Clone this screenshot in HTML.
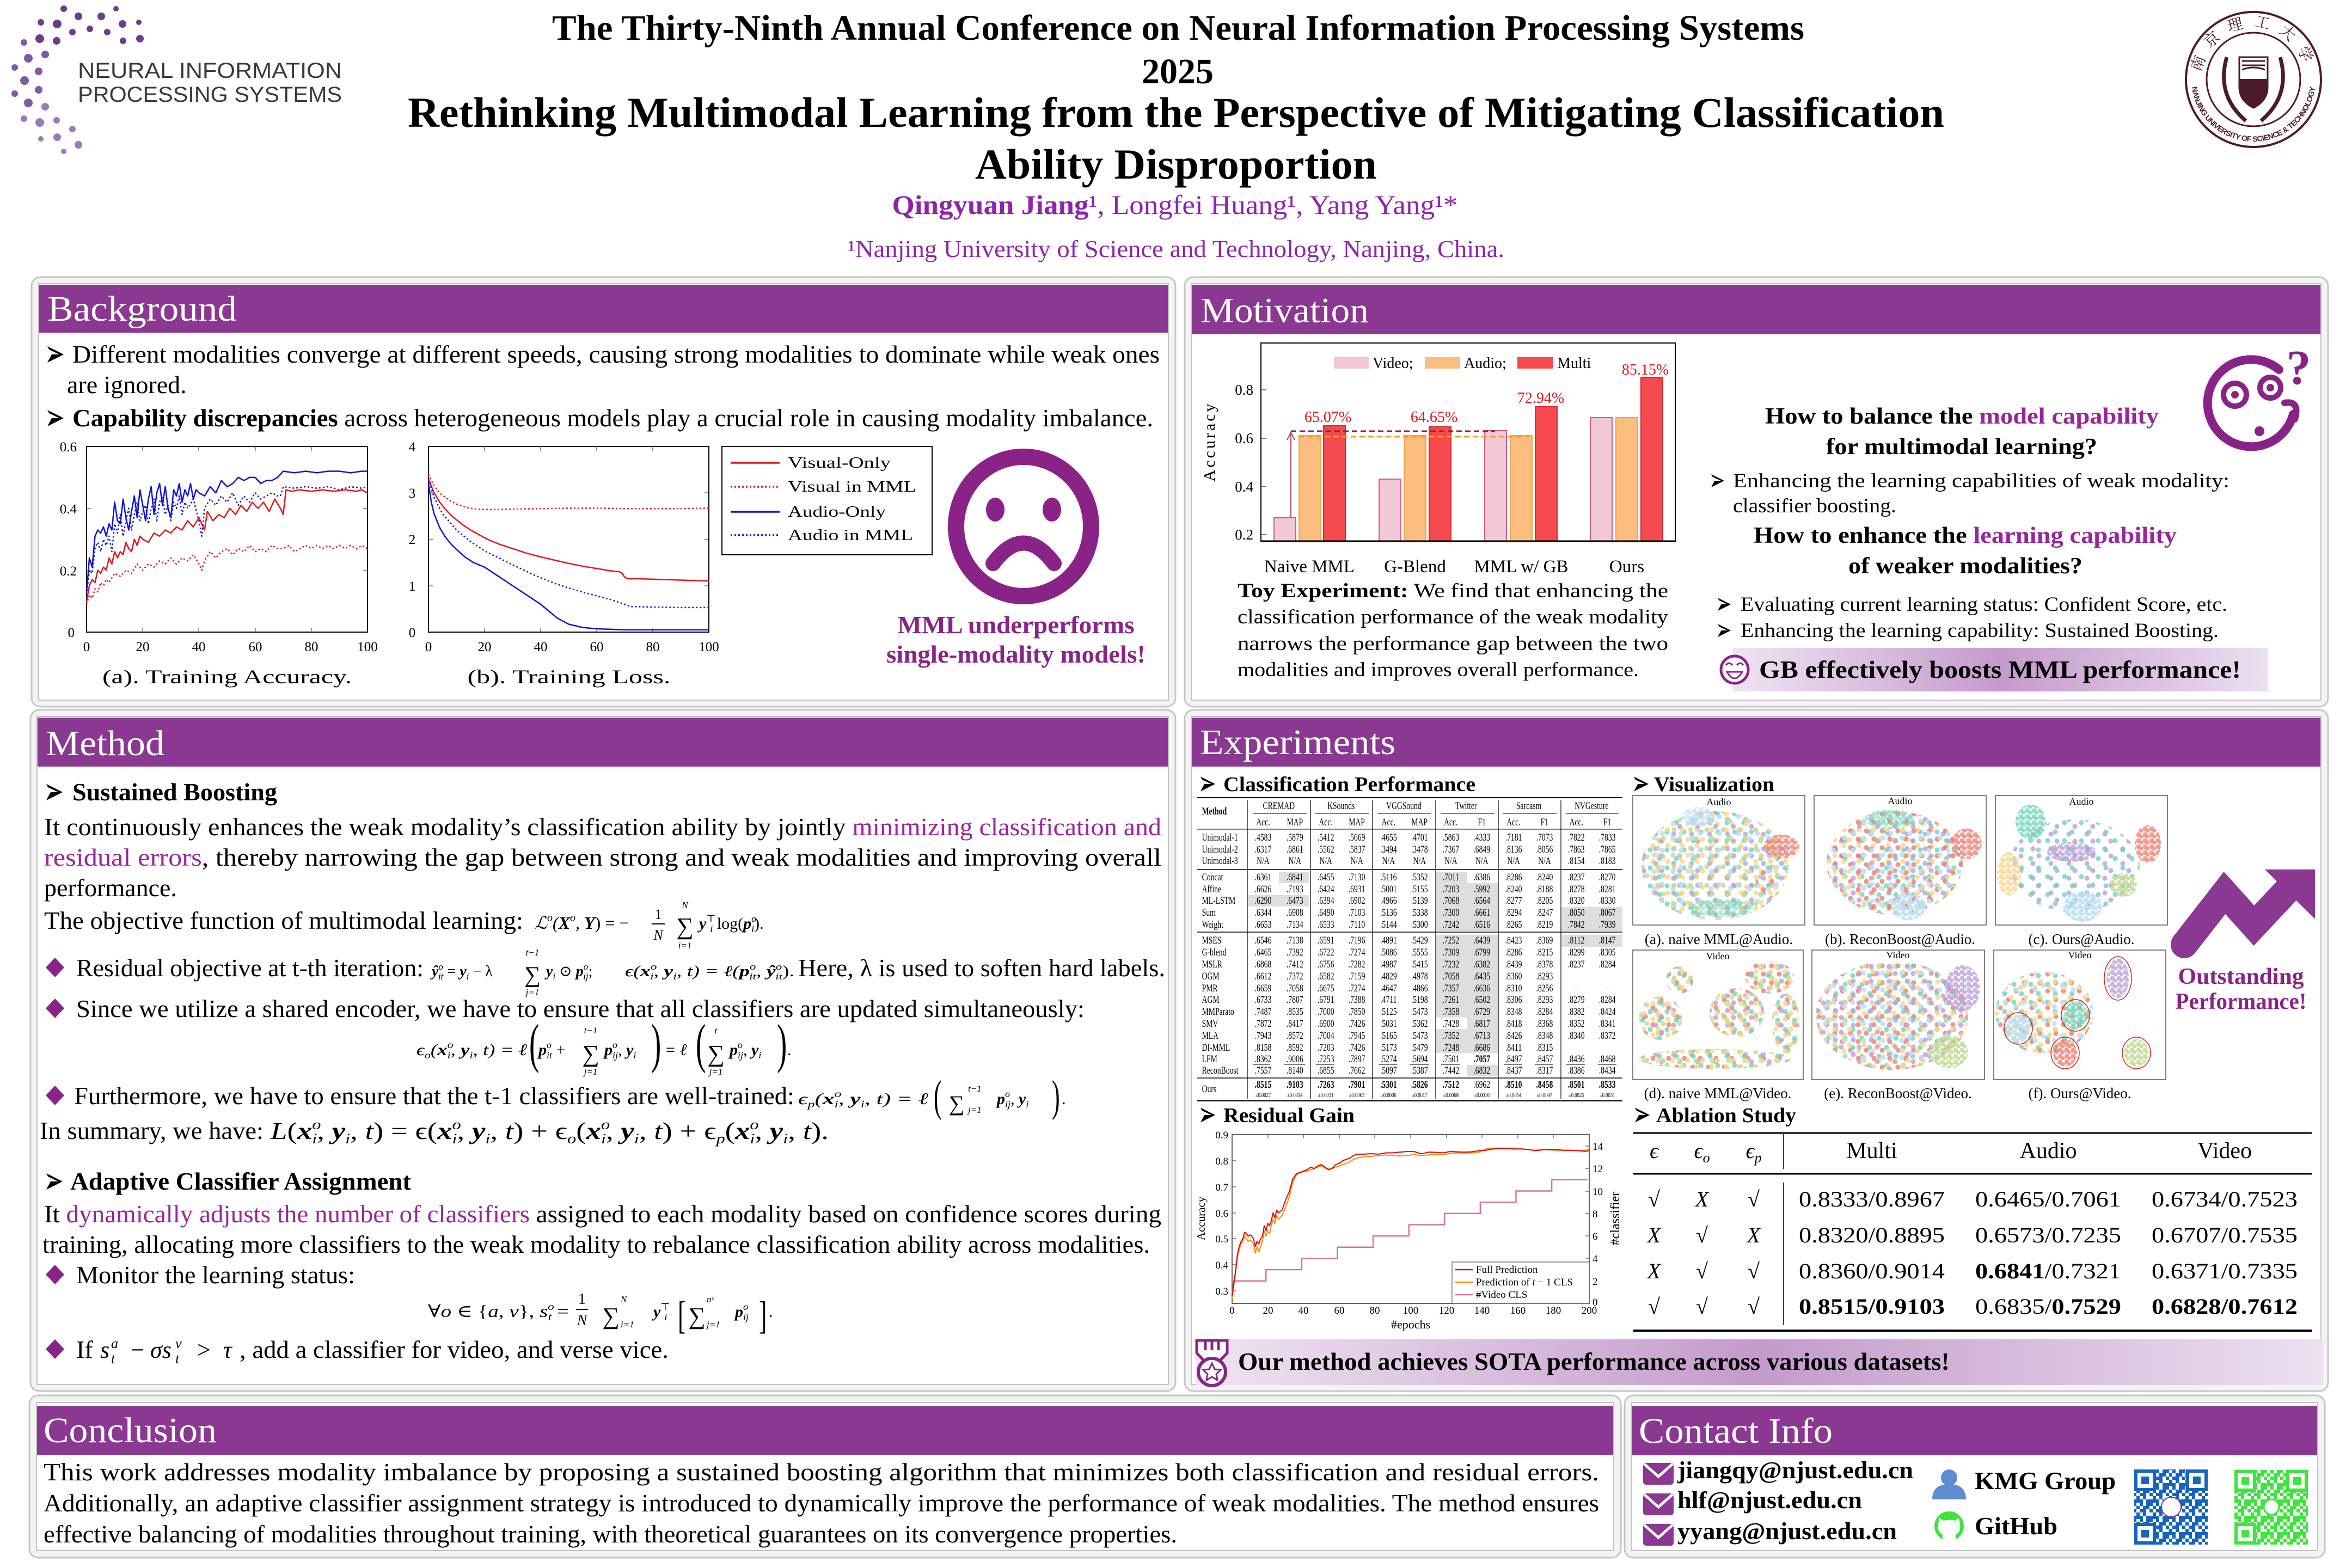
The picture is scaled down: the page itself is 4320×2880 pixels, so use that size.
<!DOCTYPE html>
<html><head><meta charset="utf-8">
<style>
html,body{margin:0;padding:0;background:#fff}
svg{display:block}
text{font-family:"Liberation Serif","DejaVu Serif",serif}
.ss{font-family:"Liberation Sans","DejaVu Sans",sans-serif}
.ar{font-family:"DejaVu Sans",sans-serif}
.cjk{font-family:"Liberation Serif","Noto Serif CJK SC","Noto Sans CJK SC",serif}
.nv{vector-effect:non-scaling-stroke}
</style></head><body>
<svg width="4320" height="2880" viewBox="0 0 4320 2880" xmlns="http://www.w3.org/2000/svg">
<defs>
<linearGradient id="gb" x1="0" x2="1" y1="0" y2="0"><stop offset="0" stop-color="#efe4f2"/><stop offset="0.5" stop-color="#c49bcb"/><stop offset="1" stop-color="#ece0f0"/></linearGradient>
<g id="ah"><path d="M0 -15 L30 0 L0 15 L8 0 Z" fill="#000"/><path d="M3 -9 L22 0 L8 0 Z" fill="#fff"/></g>
<pattern id="pr" width="29" height="31" patternUnits="userSpaceOnUse"><circle cx="6" cy="7" r="4.6" fill="#f17b6d" fill-opacity=".8"/><circle cx="20" cy="22" r="4.6" fill="#f17b6d" fill-opacity=".8"/></pattern>
<pattern id="pp" width="33" height="27" patternUnits="userSpaceOnUse"><circle cx="16" cy="6" r="4.6" fill="#bb9ddb" fill-opacity=".8"/><circle cx="5" cy="20" r="4.6" fill="#bb9ddb" fill-opacity=".8"/></pattern>
<pattern id="pt" width="31" height="33" patternUnits="userSpaceOnUse"><circle cx="24" cy="10" r="4.6" fill="#6dd5b9" fill-opacity=".8"/><circle cx="10" cy="26" r="4.6" fill="#6dd5b9" fill-opacity=".8"/></pattern>
<pattern id="py" width="27" height="29" patternUnits="userSpaceOnUse"><circle cx="12" cy="16" r="4.6" fill="#fcd789" fill-opacity=".85"/><circle cx="22" cy="5" r="4.6" fill="#fcd789" fill-opacity=".85"/></pattern>
<pattern id="pb" width="35" height="31" patternUnits="userSpaceOnUse"><circle cx="28" cy="20" r="4.6" fill="#bde0f5" fill-opacity=".9"/><circle cx="8" cy="12" r="4.6" fill="#bde0f5" fill-opacity=".9"/></pattern>
<pattern id="pg" width="30" height="34" patternUnits="userSpaceOnUse"><circle cx="15" cy="28" r="4.6" fill="#c3dc97" fill-opacity=".85"/><circle cx="25" cy="10" r="4.6" fill="#c3dc97" fill-opacity=".85"/></pattern>
<pattern id="dR" width="12" height="11" patternUnits="userSpaceOnUse"><circle cx="4" cy="4" r="4.6" fill="#f17b6d" fill-opacity=".75"/><circle cx="10" cy="9" r="4.6" fill="#f17b6d" fill-opacity=".75"/></pattern>
<pattern id="dP" width="12" height="11" patternUnits="userSpaceOnUse"><circle cx="4" cy="4" r="4.6" fill="#bb9ddb" fill-opacity=".75"/><circle cx="10" cy="9" r="4.6" fill="#bb9ddb" fill-opacity=".75"/></pattern>
<pattern id="dT" width="12" height="11" patternUnits="userSpaceOnUse"><circle cx="4" cy="4" r="4.6" fill="#6dd5b9" fill-opacity=".75"/><circle cx="10" cy="9" r="4.6" fill="#6dd5b9" fill-opacity=".75"/></pattern>
<pattern id="dY" width="12" height="11" patternUnits="userSpaceOnUse"><circle cx="4" cy="4" r="4.6" fill="#fcd789" fill-opacity=".8"/><circle cx="10" cy="9" r="4.6" fill="#fcd789" fill-opacity=".8"/></pattern>
<pattern id="dB" width="12" height="11" patternUnits="userSpaceOnUse"><circle cx="4" cy="4" r="4.6" fill="#bde0f5" fill-opacity=".9"/><circle cx="10" cy="9" r="4.6" fill="#bde0f5" fill-opacity=".9"/></pattern>
<pattern id="dG" width="12" height="11" patternUnits="userSpaceOnUse"><circle cx="4" cy="4" r="4.6" fill="#c3dc97" fill-opacity=".85"/><circle cx="10" cy="9" r="4.6" fill="#c3dc97" fill-opacity=".85"/></pattern>
<pattern id="qb" width="30" height="30" patternUnits="userSpaceOnUse"><g fill="#1565c0"><rect x="0" y="0" width="6" height="6"/><rect x="12" y="0" width="6" height="6"/><rect x="18" y="0" width="6" height="6"/><rect x="6" y="6" width="6" height="6"/><rect x="12" y="6" width="6" height="6"/><rect x="24" y="6" width="6" height="6"/><rect x="0" y="12" width="6" height="6"/><rect x="6" y="12" width="6" height="6"/><rect x="18" y="12" width="6" height="6"/><rect x="6" y="18" width="6" height="6"/><rect x="24" y="18" width="6" height="6"/><rect x="0" y="24" width="6" height="6"/><rect x="12" y="24" width="6" height="6"/><rect x="18" y="24" width="6" height="6"/><rect x="24" y="24" width="6" height="6"/></g></pattern>
<pattern id="qg" width="30" height="30" patternUnits="userSpaceOnUse"><g fill="#3ce63c"><rect x="0" y="0" width="6" height="6"/><rect x="12" y="0" width="6" height="6"/><rect x="18" y="0" width="6" height="6"/><rect x="6" y="6" width="6" height="6"/><rect x="12" y="6" width="6" height="6"/><rect x="24" y="6" width="6" height="6"/><rect x="0" y="12" width="6" height="6"/><rect x="6" y="12" width="6" height="6"/><rect x="18" y="12" width="6" height="6"/><rect x="6" y="18" width="6" height="6"/><rect x="24" y="18" width="6" height="6"/><rect x="0" y="24" width="6" height="6"/><rect x="12" y="24" width="6" height="6"/><rect x="18" y="24" width="6" height="6"/><rect x="24" y="24" width="6" height="6"/></g></pattern>
<ellipse id="a1" cx="3150" cy="1590" rx="135" ry="100"/>
<ellipse id="b1" cx="3480" cy="1585" rx="125" ry="95"/>
<ellipse id="c1" cx="3810" cy="1590" rx="120" ry="85"/>
<ellipse id="e1" cx="3475" cy="1865" rx="140" ry="100"/>
<ellipse id="f1" cx="3755" cy="1860" rx="90" ry="75"/>
<g id="dd">
<ellipse cx="3250" cy="1795" rx="45" ry="30"/>
<ellipse cx="3050" cy="1870" rx="40" ry="40"/>
<ellipse cx="3190" cy="1860" rx="50" ry="45"/>
<ellipse cx="3280" cy="1880" rx="25" ry="55"/>
<ellipse cx="3150" cy="1945" rx="140" ry="18"/>
<ellipse cx="3085" cy="1800" rx="25" ry="25"/>
</g>
<path id="arcB" d="M4025 146 A114 114 0 0 0 4253 146"/>
<path id="arcT" d="M4043 146 A96 96 0 0 1 4235 146"/>
</defs>

<rect x="0" y="0" width="4320" height="2880" fill="#fff"/>

<!-- ================= HEADER ================= -->
<g>
<g fill="#6a3d8f">
<circle cx="257" cy="71" r="7"/><circle cx="225" cy="44" r="7"/><circle cx="186" cy="30" r="7"/><circle cx="144" cy="30" r="7"/><circle cx="105" cy="44" r="8"/><circle cx="73" cy="71" r="8"/>
<circle cx="226" cy="75" r="6"/><circle cx="197" cy="59" r="6"/><circle cx="165" cy="53" r="6"/><circle cx="133" cy="59" r="6"/><circle cx="104" cy="75" r="7"/>
<circle cx="255" cy="41" r="5"/><circle cx="213" cy="16" r="5"/><circle cx="117" cy="16" r="6"/><circle cx="75" cy="41" r="6"/>
</g>
<g fill="#7f5aa3">
<circle cx="52" cy="107" r="8"/><circle cx="45" cy="148" r="8"/><circle cx="52" cy="189" r="8"/><circle cx="83" cy="100" r="7"/><circle cx="71" cy="131" r="7"/><circle cx="71" cy="165" r="7"/>
<circle cx="44" cy="78" r="6"/><circle cx="27" cy="124" r="6"/><circle cx="27" cy="172" r="6"/>
</g>
<g fill="#9a7bb6">
<circle cx="73" cy="225" r="8"/><circle cx="105" cy="252" r="7"/><circle cx="144" cy="266" r="7"/><circle cx="83" cy="196" r="7"/><circle cx="104" cy="221" r="6"/><circle cx="133" cy="237" r="6"/>
<circle cx="44" cy="218" r="6"/><circle cx="75" cy="255" r="5"/><circle cx="117" cy="278" r="5"/>
</g>
<text x="143" y="143" class="ss" font-size="40" fill="#3a3a3a" textLength="485" lengthAdjust="spacingAndGlyphs">NEURAL INFORMATION</text>
<text x="143" y="187" class="ss" font-size="40" fill="#3a3a3a" textLength="485" lengthAdjust="spacingAndGlyphs">PROCESSING SYSTEMS</text>

<text x="2164" y="73" font-size="66" font-weight="bold" text-anchor="middle" textLength="2300" lengthAdjust="spacingAndGlyphs">The Thirty-Ninth Annual Conference on Neural Information Processing Systems</text>
<text x="2163" y="153" font-size="66" font-weight="bold" text-anchor="middle">2025</text>
<text x="2160" y="233" font-size="78" font-weight="bold" text-anchor="middle" textLength="2822" lengthAdjust="spacingAndGlyphs">Rethinking Multimodal Learning from the Perspective of Mitigating Classification</text>
<text x="2160" y="328" font-size="78" font-weight="bold" text-anchor="middle" textLength="738" lengthAdjust="spacingAndGlyphs">Ability Disproportion</text>
<text x="2158" y="393" font-size="50" fill="#8e24aa" text-anchor="middle" textLength="1039" lengthAdjust="spacingAndGlyphs"><tspan font-weight="bold">Qingyuan Jiang</tspan>¹, Longfei Huang¹, Yang Yang¹*</text>
<text x="2160" y="472" font-size="44" fill="#8e24aa" text-anchor="middle" textLength="1206" lengthAdjust="spacingAndGlyphs">¹Nanjing University of Science and Technology, Nanjing, China.</text>

<!-- NJUST logo -->
<g stroke="#4d1a2c" fill="none">
<circle cx="4139" cy="146" r="124" stroke-width="4"/>
<circle cx="4139" cy="146" r="86" stroke-width="3"/>
<path d="M4090 105 Q4070 175 4125 222" stroke-width="7"/>
<path d="M4188 105 Q4208 175 4153 222" stroke-width="7"/>
<path d="M4113 105 H4165 V160 Q4165 185 4139 198 Q4113 185 4113 160 Z" stroke-width="3"/>
<path d="M4118 112 H4160 M4118 120 H4160 M4118 128 Q4139 120 4160 128" stroke-width="3"/>
</g>
<path d="M4113 145 H4165 V160 Q4165 185 4139 198 Q4113 185 4113 160 Z" fill="#4d1a2c"/>
<text class="ss" font-size="14" font-weight="bold" fill="#4d1a2c"><textPath href="#arcB" startOffset="50%" text-anchor="middle" textLength="330">NANJING UNIVERSITY OF SCIENCE &amp; TECHNOLOGY</textPath></text>
<text class="cjk" font-size="28" fill="#4d1a2c" letter-spacing="18"><textPath href="#arcT" startOffset="50%" text-anchor="middle">南京理工大学</textPath></text>
</g>

<!-- ================= PANELS ================= -->
<g fill="#f3f3f3" stroke="#c6c6c6" stroke-width="3">
<rect x="58" y="509" width="2101" height="789" rx="16"/>
<rect x="2176" y="509" width="2100" height="789" rx="16"/>
<rect x="56" y="1304" width="2103" height="1251" rx="16"/>
<rect x="2176" y="1304" width="2100" height="1251" rx="16"/>
<rect x="54" y="2563" width="2923" height="298" rx="16"/>
<rect x="2984" y="2563" width="1286" height="298" rx="16"/>
</g>
<g fill="#fff" stroke="#c2c2c2" stroke-width="2">
<rect x="71" y="521" width="2075" height="765"/>
<rect x="2188" y="521" width="2075" height="765"/>
<rect x="68" y="1316" width="2078" height="1227"/>
<rect x="2188" y="1316" width="2075" height="1227"/>
<rect x="67" y="2576" width="2897" height="272"/>
<rect x="2997" y="2576" width="1260" height="272"/>
</g>
<g fill="#8a3891">
<rect x="72" y="523" width="2073" height="88"/>
<rect x="2189" y="523" width="2073" height="91"/>
<rect x="69" y="1318" width="2076" height="90"/>
<rect x="2189" y="1318" width="2073" height="90"/>
<rect x="68" y="2582" width="2895" height="90"/>
<rect x="2998" y="2582" width="1258" height="91"/>
</g>
<g fill="#fff" font-size="66">
<text x="87" y="589" textLength="348" lengthAdjust="spacingAndGlyphs">Background</text>
<text x="2205" y="592" textLength="309" lengthAdjust="spacingAndGlyphs">Motivation</text>
<text x="84" y="1387" textLength="218" lengthAdjust="spacingAndGlyphs">Method</text>
<text x="2204" y="1385" textLength="359" lengthAdjust="spacingAndGlyphs">Experiments</text>
<text x="80" y="2649" textLength="318" lengthAdjust="spacingAndGlyphs">Conclusion</text>
<text x="3010" y="2650" textLength="356" lengthAdjust="spacingAndGlyphs">Contact Info</text>
</g>

<!-- section arrowheads -->
<use href="#ah" transform="translate(87,651)"/>
<use href="#ah" transform="translate(87,768)"/>
<use href="#ah" transform="translate(85,1455)"/>
<use href="#ah" transform="translate(85,2170)"/>
<use href="#ah" transform="translate(3143,883) scale(0.8)"/>
<use href="#ah" transform="translate(3155,1110) scale(0.8)"/>
<use href="#ah" transform="translate(3155,1158) scale(0.8)"/>
<use href="#ah" transform="translate(2205,1440) scale(0.9)"/>
<use href="#ah" transform="translate(2205,2048) scale(0.9)"/>
<use href="#ah" transform="translate(3001,1440) scale(0.9)"/>
<use href="#ah" transform="translate(3003,2048) scale(0.9)"/>

<!-- ================= BACKGROUND ================= -->
<g font-size="46">
<text x="133" y="666" textLength="1997" lengthAdjust="spacingAndGlyphs">Different modalities converge at different speeds, causing strong modalities to dominate while weak ones</text>
<text x="123" y="722">are ignored.</text>
<text x="133" y="783" textLength="1985" lengthAdjust="spacingAndGlyphs"><tspan font-weight="bold">Capability discrepancies</tspan> across heterogeneous models play a crucial role in causing modality imbalance.</text>
</g>
<!-- chart a -->
<rect x="159" y="820" width="516" height="341" fill="none" stroke="#000" stroke-width="2"/>
<g stroke="#777" stroke-width="1.5">
<path d="M262 820v8M365 820v8M469 820v8M572 820v8M262 1161v-8M365 1161v-8M469 1161v-8M572 1161v-8M675 934h-8M675 1048h-8M159 934h8M159 1048h8"/>
<path d="M890 820v8M993 820v8M1096 820v8M1199 820v8M890 1161v-8M993 1161v-8M1096 1161v-8M1199 1161v-8M1302 905h-8M1302 991h-8M1302 1076h-8M787 905h8M787 991h8M787 1076h8"/>
</g>
<g font-size="25" text-anchor="end">
<text x="141" y="829">0.6</text><text x="141" y="943">0.4</text><text x="141" y="1057">0.2</text><text x="137" y="1170">0</text>
</g>
<g font-size="25" text-anchor="middle">
<text x="159" y="1196">0</text><text x="262" y="1196">20</text><text x="365" y="1196">40</text><text x="469" y="1196">60</text><text x="572" y="1196">80</text><text x="675" y="1196">100</text>
<text x="757" y="829">4</text><text x="757" y="914">3</text><text x="757" y="999">2</text><text x="757" y="1085">1</text><text x="757" y="1170">0</text>
<text x="787" y="1196">0</text><text x="890" y="1196">20</text><text x="993" y="1196">40</text><text x="1096" y="1196">60</text><text x="1199" y="1196">80</text><text x="1302" y="1196">100</text>
</g>
<text x="417" y="1255" font-size="36" text-anchor="middle" textLength="458" lengthAdjust="spacingAndGlyphs">(a). Training Accuracy.</text>
<text x="1045" y="1255" font-size="36" text-anchor="middle" textLength="373" lengthAdjust="spacingAndGlyphs">(b). Training Loss.</text>
<g transform="translate(159,1161) scale(5.16,-568.3)" fill="none" stroke-width="2.5" stroke-linejoin="round">
<polyline class="nv" stroke="#e8141c" stroke-dasharray="3 4" points="0,.09 1,.12 2,.11 3,.14 4,.13 5,.16 6,.15 7,.17 8,.16 10,.19 12,.18 14,.2 16,.19 18,.22 20,.2 22,.22 24,.21 26,.23 28,.22 30,.24 32,.22 34,.24 36,.23 38,.25 40,.22 41,.2 42,.23 44,.26 46,.24 48,.26 50,.27 52,.25 54,.27 56,.26 58,.28 60,.26 62,.27 64,.26 66,.28 68,.27 70,.27 72,.28 74,.26 76,.27 78,.28 80,.27 82,.28 84,.27 86,.28 88,.27 90,.28 92,.27 94,.28 96,.27 98,.28 100,.27"/>
<polyline class="nv" stroke="#e8141c" points="0,.1 1,.15 2,.17 3,.16 4,.2 5,.19 6,.21 7,.2 8,.24 9,.22 10,.26 11,.24 12,.26 13,.25 14,.29 15,.27 16,.26 17,.3 18,.28 19,.31 20,.3 22,.29 24,.32 26,.31 28,.33 30,.32 32,.34 34,.33 36,.36 38,.34 40,.37 42,.33 43,.39 45,.36 47,.38 49,.37 51,.4 53,.38 55,.41 57,.39 59,.42 61,.4 63,.42 65,.39 67,.43 69,.4 70,.38 71,.46 73,.455 76,.46 80,.455 84,.46 88,.455 92,.46 96,.455 98,.46 100,.45"/>
<polyline class="nv" stroke="#1010e0" stroke-dasharray="3 4" points="0,.12 1,.2 2,.19 3,.27 4,.29 5,.26 6,.3 7,.28 8,.31 9,.26 10,.35 11,.32 12,.38 13,.31 14,.36 15,.4 16,.33 17,.38 18,.42 19,.36 20,.39 21,.41 22,.35 23,.4 24,.43 25,.36 26,.42 27,.44 28,.38 29,.41 30,.36 31,.42 32,.4 33,.44 34,.38 35,.42 36,.40 38,.43 40,.36 41,.31 42,.4 44,.43 46,.41 48,.44 50,.42 52,.45 54,.41 56,.44 58,.42 60,.45 62,.43 64,.44 66,.45 68,.44 69,.44 70,.47 74,.465 78,.47 82,.465 86,.47 90,.46 94,.47 98,.465 100,.47"/>
<polyline class="nv" stroke="#1010e0" points="0,.13 1,.24 2,.21 3,.31 4,.33 5,.32 6,.34 7,.31 8,.35 9,.33 10,.42 11,.36 12,.35 13,.43 14,.37 15,.33 16,.39 17,.44 18,.37 19,.46 20,.41 21,.36 22,.43 23,.47 24,.38 25,.45 26,.48 27,.41 28,.47 29,.40 30,.37 31,.46 32,.44 33,.48 34,.42 35,.46 36,.44 37,.48 38,.43 39,.46 40,.45 42,.44 44,.47 46,.45 48,.49 50,.47 52,.48 54,.50 56,.49 58,.50 60,.50 62,.48 64,.49 66,.49 68,.50 69,.51 70,.52 74,.515 78,.52 82,.515 86,.52 90,.52 94,.515 98,.52 100,.52"/>
</g>
<!-- chart b -->
<rect x="787" y="820" width="515" height="341" fill="none" stroke="#000" stroke-width="2"/>
<g transform="translate(787,1161) scale(5.15,-85.25)" fill="none" stroke-width="2.5" stroke-linejoin="round">
<polyline class="nv" stroke="#e8141c" stroke-dasharray="3 4" points="0,3.4 2,3.15 4,3.0 6,2.9 8,2.82 10,2.76 12,2.72 14,2.68 16,2.66 18,2.65 22,2.64 30,2.65 40,2.66 50,2.67 60,2.67 70,2.66 80,2.66 90,2.66 100,2.67"/>
<polyline class="nv" stroke="#e8141c" points="0,3.3 2,3.0 4,2.8 6,2.65 8,2.52 10,2.42 12,2.32 15,2.2 18,2.1 21,2.0 25,1.9 30,1.8 35,1.7 40,1.62 45,1.55 50,1.48 55,1.42 60,1.37 65,1.32 68,1.3 69,1.27 70,1.18 71,1.15 75,1.15 80,1.14 85,1.13 90,1.12 95,1.11 100,1.1"/>
<polyline class="nv" stroke="#1010e0" stroke-dasharray="3 4" points="0,3.3 2,2.9 5,2.55 10,2.2 15,1.95 20,1.75 25,1.6 30,1.45 38,1.22 45,1.05 50,0.95 55,0.86 60,0.78 65,0.7 70,0.6 72,0.55 80,0.54 90,0.53 100,0.53"/>
<polyline class="nv" stroke="#1010e0" points="0,3.2 1,2.8 2,2.55 3,2.4 4,2.25 6,2.05 8,1.9 10,1.78 13,1.62 16,1.5 20,1.4 25,1.2 30,1.0 35,0.8 40,0.6 43,0.45 46,0.3 50,0.17 55,0.1 60,0.07 70,0.05 80,0.05 100,0.05"/>
</g>
<!-- legend -->
<rect x="1326" y="820" width="386" height="199" fill="#fff" stroke="#000" stroke-width="2"/>
<g stroke-width="3.5">
<line x1="1342" y1="850" x2="1432" y2="850" stroke="#e8141c"/>
<line x1="1342" y1="894" x2="1432" y2="894" stroke="#e8141c" stroke-dasharray="3 4"/>
<line x1="1342" y1="940" x2="1432" y2="940" stroke="#1010e0"/>
<line x1="1342" y1="983" x2="1432" y2="983" stroke="#1010e0" stroke-dasharray="3 4"/>
</g>
<g font-size="28">
<text x="1447" y="859" textLength="189" lengthAdjust="spacingAndGlyphs">Visual-Only</text>
<text x="1447" y="903" textLength="236" lengthAdjust="spacingAndGlyphs">Visual in MML</text>
<text x="1447" y="949" textLength="180" lengthAdjust="spacingAndGlyphs">Audio-Only</text>
<text x="1447" y="992" textLength="230" lengthAdjust="spacingAndGlyphs">Audio in MML</text>
</g>
<!-- sad face -->
<g fill="none" stroke="#8a2387">
<ellipse cx="1880" cy="967" rx="124" ry="128" stroke-width="30"/>
<path d="M1824 1035 Q1880 960 1936 1035" stroke-width="28" stroke-linecap="round"/>
</g>
<ellipse cx="1828" cy="936" rx="17" ry="22" fill="#8a2387"/>
<ellipse cx="1932" cy="936" rx="17" ry="22" fill="#8a2387"/>
<text x="1866" y="1163" font-size="46" font-weight="bold" fill="#8a2387" text-anchor="middle" textLength="435" lengthAdjust="spacingAndGlyphs">MML underperforms</text>
<text x="1866" y="1217" font-size="46" font-weight="bold" fill="#8a2387" text-anchor="middle" textLength="476" lengthAdjust="spacingAndGlyphs">single-modality models!</text>

<!-- ================= MOTIVATION ================= -->
<rect x="2316" y="630" width="761" height="364" fill="none" stroke="#000" stroke-width="2"/>
<path d="M2316 716h10M2316 805h10M2316 894h10M2316 982h10" stroke="#555" stroke-width="1.5"/>
<g font-size="27" text-anchor="end">
<text x="2302" y="725">0.8</text><text x="2302" y="814">0.6</text><text x="2302" y="903">0.4</text><text x="2302" y="991">0.2</text>
</g>
<text transform="translate(2231,811) rotate(-90)" font-size="30" text-anchor="middle" letter-spacing="4">Accuracy</text>
<rect x="2450" y="656" width="64" height="21" fill="#f2c8d6"/>
<rect x="2617" y="656" width="65" height="21" fill="#fbbd7e"/>
<rect x="2787" y="656" width="66" height="21" fill="#f64a4f"/>
<g font-size="28"><text x="2521" y="676">Video;</text><text x="2689" y="676">Audio;</text><text x="2860" y="676">Multi</text></g>
<g stroke-width="2">
<g fill="#f2c8d6" stroke="#cf5c86">
<rect x="2340" y="951" width="40" height="43"/><rect x="2533" y="880" width="40" height="114"/><rect x="2727" y="791" width="40" height="203"/><rect x="2921" y="767" width="40" height="227"/>
</g>
<g fill="#fbbd7e" stroke="#f2a24c">
<rect x="2386" y="800" width="40" height="194"/><rect x="2579" y="800" width="40" height="194"/><rect x="2774" y="800" width="40" height="194"/><rect x="2968" y="767" width="40" height="227"/>
</g>
<g fill="#f64a4f" stroke="#d42a35">
<rect x="2431" y="782" width="40" height="212"/><rect x="2625" y="784" width="40" height="210"/><rect x="2820" y="747" width="40" height="247"/><rect x="3014" y="693" width="40" height="301"/>
</g>
</g>
<line x1="2316" y1="994" x2="3077" y2="994" stroke="#000" stroke-width="3"/>
<line x1="2371" y1="792" x2="2746" y2="792" stroke="#8a2040" stroke-width="3" stroke-dasharray="10 6"/>
<line x1="2385" y1="802" x2="2808" y2="802" stroke="#ff9a30" stroke-width="3" stroke-dasharray="10 6"/>
<line x1="2371" y1="951" x2="2371" y2="798" stroke="#b04070" stroke-width="2"/>
<path d="M2364 808 L2371 794 L2378 808" fill="none" stroke="#b04070" stroke-width="2"/>
<g font-size="28" fill="#e8141c" text-anchor="middle">
<text x="2439" y="775">65.07%</text><text x="2634" y="775">64.65%</text><text x="2830" y="740">72.94%</text><text x="3022" y="688">85.15%</text>
</g>
<g font-size="33" text-anchor="middle">
<text x="2405" y="1051">Naive MML</text><text x="2599" y="1051">G-Blend</text><text x="2794" y="1051">MML w/ GB</text><text x="2988" y="1051">Ours</text>
</g>
<g font-size="37">
<text x="2273" y="1097" textLength="791" lengthAdjust="spacingAndGlyphs"><tspan font-weight="bold">Toy Experiment:</tspan> We find that enhancing the</text>
<text x="2273" y="1145" textLength="791" lengthAdjust="spacingAndGlyphs">classification performance of the weak modality</text>
<text x="2273" y="1194" textLength="791" lengthAdjust="spacingAndGlyphs">narrows the performance gap between the two</text>
<text x="2273" y="1242" textLength="737" lengthAdjust="spacingAndGlyphs">modalities and improves overall performance.</text>
</g>
<!-- thinking icon -->
<g fill="none" stroke="#8a2387" stroke-linecap="round">
<path d="M4186 679 A80 80 0 1 0 4212 761" stroke-width="16"/>
<circle cx="4105" cy="725" r="21" stroke-width="10"/>
<circle cx="4170" cy="712" r="19" stroke-width="10"/>
<path d="M4196 740 Q4225 735 4215 770" stroke-width="12"/>
</g>
<circle cx="4105" cy="725" r="7" fill="#8a2387"/>
<circle cx="4170" cy="712" r="7" fill="#8a2387"/>
<circle cx="4150" cy="792" r="9" fill="#8a2387"/>
<text x="4222" y="705" font-size="90" font-weight="bold" fill="#8a2387" text-anchor="middle">?</text>
<g font-size="42" font-weight="bold">
<text x="3242" y="778" textLength="723" lengthAdjust="spacingAndGlyphs">How to balance the <tspan fill="#99249b">model capability</tspan></text>
<text x="3354" y="834" textLength="498" lengthAdjust="spacingAndGlyphs">for multimodal learning?</text>
<text x="3221" y="997" textLength="777" lengthAdjust="spacingAndGlyphs">How to enhance the <tspan fill="#99249b">learning capability</tspan></text>
<text x="3395" y="1053" textLength="430" lengthAdjust="spacingAndGlyphs">of weaker modalities?</text>
</g>
<g font-size="37">
<text x="3183" y="895" textLength="912" lengthAdjust="spacingAndGlyphs">Enhancing the learning capabilities of weak modality:</text>
<text x="3183" y="941" textLength="300" lengthAdjust="spacingAndGlyphs">classifier boosting.</text>
<text x="3197" y="1122" textLength="894" lengthAdjust="spacingAndGlyphs">Evaluating current learning status: Confident Score, etc.</text>
<text x="3197" y="1170" textLength="878" lengthAdjust="spacingAndGlyphs">Enhancing the learning capability: Sustained Boosting.</text>
</g>
<rect x="3183" y="1190" width="983" height="80" fill="url(#gb)"/>
<circle cx="3186" cy="1230" r="25" fill="#fff" stroke="#8a2387" stroke-width="5"/>
<path d="M3170 1222 q6 -8 12 0 M3190 1222 q6 -8 12 0" fill="none" stroke="#8a2387" stroke-width="3"/>
<path d="M3172 1234 Q3186 1258 3200 1234 Z" fill="#fff" stroke="#8a2387" stroke-width="3"/>
<text x="3231" y="1245" font-size="46" font-weight="bold" textLength="885" lengthAdjust="spacingAndGlyphs">GB effectively boosts MML performance!</text>

<!-- ================= METHOD ================= -->
<g font-size="46">
<text x="133" y="1470" font-weight="bold" textLength="376" lengthAdjust="spacingAndGlyphs">Sustained Boosting</text>
<text x="81" y="1534" textLength="2052" lengthAdjust="spacingAndGlyphs">It continuously enhances the weak modality’s classification ability by jointly <tspan fill="#99249b">minimizing classification and</tspan></text>
<text x="81" y="1590" textLength="2052" lengthAdjust="spacingAndGlyphs"><tspan fill="#99249b">residual errors</tspan>, thereby narrowing the gap between strong and weak modalities and improving overall</text>
<text x="81" y="1646">performance.</text>
<text x="81" y="1706" textLength="880" lengthAdjust="spacingAndGlyphs">The objective function of multimodal learning:</text>
<text x="140" y="1793" textLength="638" lengthAdjust="spacingAndGlyphs">Residual objective at t-th iteration:</text>
<text x="1466" y="1793" textLength="674" lengthAdjust="spacingAndGlyphs">Here, λ is used to soften hard labels.</text>
<text x="140" y="1868" textLength="1852" lengthAdjust="spacingAndGlyphs">Since we utilize a shared encoder, we have to ensure that all classifiers are updated simultaneously:</text>
<text x="136" y="2028" textLength="1323" lengthAdjust="spacingAndGlyphs">Furthermore, we have to ensure that the t-1 classifiers are well-trained:</text>
<text x="73" y="2092" textLength="411" lengthAdjust="spacingAndGlyphs">In summary, we have:</text>
<text x="129" y="2185" font-weight="bold" textLength="626" lengthAdjust="spacingAndGlyphs">Adaptive Classifier Assignment</text>
<text x="81" y="2245" textLength="2052" lengthAdjust="spacingAndGlyphs">It <tspan fill="#99249b">dynamically adjusts the number of classifiers</tspan> assigned to each modality based on confidence scores during</text>
<text x="78" y="2301" textLength="2034" lengthAdjust="spacingAndGlyphs">training, allocating more classifiers to the weak modality to rebalance classification ability across modalities.</text>
<text x="140" y="2357" textLength="512" lengthAdjust="spacingAndGlyphs">Monitor the learning status:</text>
<text x="140" y="2494">If</text>
<text x="440" y="2494" textLength="788" lengthAdjust="spacingAndGlyphs">, add a classifier for video, and verse vice.</text>
</g>
<g fill="#8a2387">
<polygon points="101,1759 118,1777 101,1795 84,1777"/>
<polygon points="101,1834 118,1852 101,1870 84,1852"/>
<polygon points="101,1994 118,2012 101,2030 84,2012"/>
<polygon points="101,2323 118,2341 101,2359 84,2341"/>
<polygon points="101,2460 118,2478 101,2496 84,2478"/>
</g>
<!-- formula 1 -->
<text x="982" y="1706" font-size="32" font-style="italic">ℒ<tspan font-size="20" dy="-14">o</tspan><tspan dy="14">(</tspan><tspan font-weight="bold">X</tspan><tspan font-size="20" dy="-14">o</tspan><tspan dy="14">, </tspan><tspan font-weight="bold">Y</tspan><tspan font-style="normal">) = −</tspan></text>
<text x="1209" y="1688" font-size="26" text-anchor="middle">1</text>
<line x1="1197" y1="1697" x2="1221" y2="1697" stroke="#000" stroke-width="2"/>
<text x="1209" y="1726" font-size="26" font-style="italic" text-anchor="middle">N</text>
<text x="1258" y="1716" font-size="44" text-anchor="middle">∑</text>
<text x="1258" y="1668" font-size="17" font-style="italic" text-anchor="middle">N</text>
<text x="1258" y="1742" font-size="17" font-style="italic" text-anchor="middle">i=1</text>
<text x="1284" y="1706" font-size="30" font-style="italic"><tspan font-weight="bold">y</tspan><tspan font-size="18" dy="-13" font-style="normal">⊤</tspan><tspan font-size="18" dx="-10" dy="19">i</tspan><tspan dy="-6" font-style="normal"> log(</tspan><tspan font-weight="bold">p</tspan><tspan font-size="18" dy="-13">o</tspan><tspan font-size="18" dx="-9" dy="19">i</tspan><tspan dy="-6" font-style="normal">).</tspan></text>
<!-- formula 2 -->
<text x="793" y="1793" font-size="28" font-style="italic"><tspan font-weight="bold">ŷ</tspan><tspan font-size="17" dy="-12">o</tspan><tspan font-size="17" dx="-9" dy="18">it</tspan><tspan dy="-6" font-style="normal"> = </tspan><tspan font-weight="bold">y</tspan><tspan font-size="17" dy="6">i</tspan><tspan dy="-6" font-style="normal"> − λ</tspan></text>
<text x="978" y="1804" font-size="42" text-anchor="middle">∑</text>
<text x="978" y="1755" font-size="17" font-style="italic" text-anchor="middle">t−1</text>
<text x="978" y="1828" font-size="17" font-style="italic" text-anchor="middle">j=1</text>
<text x="1003" y="1793" font-size="28" font-style="italic"><tspan font-weight="bold">y</tspan><tspan font-size="17" dy="6">i</tspan><tspan dy="-6" font-style="normal"> ⊙ </tspan><tspan font-weight="bold">p</tspan><tspan font-size="17" dy="-12">o</tspan><tspan font-size="17" dx="-9" dy="18">ij</tspan><tspan dy="-6" font-style="normal">;</tspan></text>
<text x="1148" y="1793" font-size="28" font-style="italic" textLength="311" lengthAdjust="spacingAndGlyphs">ϵ(<tspan font-weight="bold">x</tspan><tspan font-size="17" dy="-12">o</tspan><tspan font-size="17" dx="-9" dy="18">i</tspan><tspan dy="-6">, </tspan><tspan font-weight="bold">y</tspan><tspan font-size="17" dy="6">i</tspan><tspan dy="-6">, t) = ℓ(</tspan><tspan font-weight="bold">p</tspan><tspan font-size="17" dy="-12">o</tspan><tspan font-size="17" dx="-9" dy="18">it</tspan><tspan dy="-6">, </tspan><tspan font-weight="bold">ŷ</tspan><tspan font-size="17" dy="-12">o</tspan><tspan font-size="17" dx="-9" dy="18">it</tspan><tspan dy="-6" font-style="normal">).</tspan></text>
<!-- formula 3 -->
<text x="765" y="1938" font-size="30" font-style="italic" textLength="203" lengthAdjust="spacingAndGlyphs">ϵ<tspan font-size="18" dy="6">o</tspan><tspan dy="-6">(</tspan><tspan font-weight="bold">x</tspan><tspan font-size="18" dy="-13">o</tspan><tspan font-size="18" dx="-9" dy="19">i</tspan><tspan dy="-6">, </tspan><tspan font-weight="bold">y</tspan><tspan font-size="18" dy="6">i</tspan><tspan dy="-6">, t) = ℓ</tspan></text>
<text transform="translate(972,1950) scale(0.55,1)" font-size="100">(</text>
<text x="989" y="1938" font-size="30" font-style="italic"><tspan font-weight="bold">p</tspan><tspan font-size="18" dy="-13">o</tspan><tspan font-size="18" dx="-9" dy="19">it</tspan><tspan dy="-6" font-style="normal"> +</tspan></text>
<text x="1085" y="1950" font-size="44" text-anchor="middle">∑</text>
<text x="1085" y="1898" font-size="17" font-style="italic" text-anchor="middle">t−1</text>
<text x="1085" y="1974" font-size="17" font-style="italic" text-anchor="middle">j=1</text>
<text x="1110" y="1938" font-size="30" font-style="italic"><tspan font-weight="bold">p</tspan><tspan font-size="18" dy="-13">o</tspan><tspan font-size="18" dx="-9" dy="19">ij</tspan><tspan dy="-6">, </tspan><tspan font-weight="bold">y</tspan><tspan font-size="18" dy="6">i</tspan></text>
<text transform="translate(1196,1950) scale(0.55,1)" font-size="100">)</text>
<text x="1221" y="1938" font-size="30" font-style="italic">= ℓ</text>
<text transform="translate(1278,1950) scale(0.55,1)" font-size="100">(</text>
<text x="1315" y="1950" font-size="44" text-anchor="middle">∑</text>
<text x="1315" y="1898" font-size="17" font-style="italic" text-anchor="middle">t</text>
<text x="1315" y="1974" font-size="17" font-style="italic" text-anchor="middle">j=1</text>
<text x="1340" y="1938" font-size="30" font-style="italic"><tspan font-weight="bold">p</tspan><tspan font-size="18" dy="-13">o</tspan><tspan font-size="18" dx="-9" dy="19">ij</tspan><tspan dy="-6">, </tspan><tspan font-weight="bold">y</tspan><tspan font-size="18" dy="6">i</tspan></text>
<text transform="translate(1427,1950) scale(0.55,1)" font-size="100">)</text>
<text x="1446" y="1938" font-size="30">.</text>
<!-- formula 4 -->
<text x="1466" y="2028" font-size="30" font-style="italic" textLength="239" lengthAdjust="spacingAndGlyphs">ϵ<tspan font-size="18" dy="6">p</tspan><tspan dy="-6">(</tspan><tspan font-weight="bold">x</tspan><tspan font-size="18" dy="-13">o</tspan><tspan font-size="18" dx="-9" dy="19">i</tspan><tspan dy="-6">, </tspan><tspan font-weight="bold">y</tspan><tspan font-size="18" dy="6">i</tspan><tspan dy="-6">, t) = ℓ</tspan></text>
<text transform="translate(1715,2040) scale(0.55,1)" font-size="80">(</text>
<text x="1757" y="2040" font-size="40" text-anchor="middle">∑</text>
<text x="1778" y="2005" font-size="17" font-style="italic">t−1</text>
<text x="1778" y="2044" font-size="17" font-style="italic">j=1</text>
<text x="1831" y="2028" font-size="30" font-style="italic"><tspan font-weight="bold">p</tspan><tspan font-size="18" dy="-13">o</tspan><tspan font-size="18" dx="-9" dy="19">ij</tspan><tspan dy="-6">, </tspan><tspan font-weight="bold">y</tspan><tspan font-size="18" dy="6">i</tspan></text>
<text transform="translate(1932,2040) scale(0.55,1)" font-size="80">)</text>
<text x="1950" y="2028" font-size="30">.</text>
<!-- summary formula -->
<text x="497" y="2092" font-size="44" textLength="1025" lengthAdjust="spacingAndGlyphs"><tspan font-style="italic">L</tspan>(<tspan font-weight="bold" font-style="italic">x</tspan><tspan font-size="26" dy="-18" font-style="italic">o</tspan><tspan font-size="26" dx="-13" dy="26" font-style="italic">i</tspan><tspan dy="-8">, </tspan><tspan font-weight="bold" font-style="italic">y</tspan><tspan font-size="26" dy="8" font-style="italic">i</tspan><tspan dy="-8">, </tspan><tspan font-style="italic">t</tspan>) = ϵ(<tspan font-weight="bold" font-style="italic">x</tspan><tspan font-size="26" dy="-18" font-style="italic">o</tspan><tspan font-size="26" dx="-13" dy="26" font-style="italic">i</tspan><tspan dy="-8">, </tspan><tspan font-weight="bold" font-style="italic">y</tspan><tspan font-size="26" dy="8" font-style="italic">i</tspan><tspan dy="-8">, </tspan><tspan font-style="italic">t</tspan>) + ϵ<tspan font-size="26" dy="8" font-style="italic">o</tspan><tspan dy="-8">(</tspan><tspan font-weight="bold" font-style="italic">x</tspan><tspan font-size="26" dy="-18" font-style="italic">o</tspan><tspan font-size="26" dx="-13" dy="26" font-style="italic">i</tspan><tspan dy="-8">, </tspan><tspan font-weight="bold" font-style="italic">y</tspan><tspan font-size="26" dy="8" font-style="italic">i</tspan><tspan dy="-8">, </tspan><tspan font-style="italic">t</tspan>) + ϵ<tspan font-size="26" dy="8" font-style="italic">p</tspan><tspan dy="-8">(</tspan><tspan font-weight="bold" font-style="italic">x</tspan><tspan font-size="26" dy="-18" font-style="italic">o</tspan><tspan font-size="26" dx="-13" dy="26" font-style="italic">i</tspan><tspan dy="-8">, </tspan><tspan font-weight="bold" font-style="italic">y</tspan><tspan font-size="26" dy="8" font-style="italic">i</tspan><tspan dy="-8">, </tspan><tspan font-style="italic">t</tspan>).</text>
<!-- formula 5 -->
<text x="786" y="2419" font-size="32" textLength="259" lengthAdjust="spacingAndGlyphs">∀<tspan font-style="italic">o</tspan> ∈ {<tspan font-style="italic">a</tspan>, <tspan font-style="italic">v</tspan>}, <tspan font-style="italic">s</tspan><tspan font-size="19" dy="-13" font-style="italic">o</tspan><tspan font-size="19" dx="-9" dy="19" font-style="italic">t</tspan><tspan dy="-6"> =</tspan></text>
<text x="1069" y="2395" font-size="28" text-anchor="middle">1</text>
<line x1="1058" y1="2405" x2="1080" y2="2405" stroke="#000" stroke-width="2"/>
<text x="1069" y="2434" font-size="28" font-style="italic" text-anchor="middle">N</text>
<text x="1122" y="2432" font-size="44" text-anchor="middle">∑</text>
<text x="1140" y="2392" font-size="17" font-style="italic">N</text>
<text x="1140" y="2438" font-size="17" font-style="italic">i=1</text>
<text x="1200" y="2419" font-size="30" font-style="italic"><tspan font-weight="bold">y</tspan><tspan font-size="18" dy="-13" font-style="normal">⊤</tspan><tspan font-size="18" dx="-10" dy="19">i</tspan></text>
<text transform="translate(1245,2440) scale(0.6,1)" font-size="72">[</text>
<text x="1280" y="2432" font-size="44" text-anchor="middle">∑</text>
<text x="1298" y="2392" font-size="17" font-style="italic">nᵒ</text>
<text x="1298" y="2438" font-size="17" font-style="italic">j=1</text>
<text x="1350" y="2419" font-size="30" font-style="italic"><tspan font-weight="bold">p</tspan><tspan font-size="18" dy="-13">o</tspan><tspan font-size="18" dx="-9" dy="19">ij</tspan></text>
<text transform="translate(1394,2440) scale(0.6,1)" font-size="72">]</text>
<text x="1412" y="2419" font-size="30">.</text>
<!-- formula 6 -->
<g font-size="44" font-style="italic">
<text x="184" y="2494">s</text>
<text x="204" y="2476" font-size="26">a</text>
<text x="204" y="2504" font-size="26">t</text>
<text x="240" y="2494" font-style="normal">−</text>
<text x="276" y="2494">σs</text>
<text x="322" y="2476" font-size="26">v</text>
<text x="322" y="2504" font-size="26">t</text>
<text x="362" y="2494" font-style="normal">&gt;</text>
<text x="410" y="2494">τ</text>
</g>

<!-- ================= EXPERIMENTS ================= -->
<text x="2247" y="1453" font-size="38" font-weight="bold" textLength="463" lengthAdjust="spacingAndGlyphs">Classification Performance</text>
<!-- table highlights -->
<g fill="#dedede">
<rect x="2349" y="1601" width="56" height="21"/>
<rect x="2292" y="1644" width="113" height="21"/>
<rect x="2638" y="1601" width="56" height="21"/>
<rect x="2638" y="1622" width="113" height="88"/>
<rect x="2868" y="1666" width="112" height="44"/>
<rect x="2868" y="1717" width="112" height="22"/>
<rect x="2638" y="1717" width="113" height="217"/>
<rect x="2694" y="1956" width="57" height="21"/>
</g>
<rect x="2638" y="1869" width="56" height="21" fill="#fff"/>
<g stroke="#000">
<line x1="2199" y1="1465" x2="2980" y2="1465" stroke-width="2"/>
<line x1="2199" y1="1523" x2="2980" y2="1523" stroke-width="1"/>
<line x1="2199" y1="1597" x2="2980" y2="1597" stroke-width="1.5"/>
<line x1="2199" y1="1712" x2="2980" y2="1712" stroke-width="1.5"/>
<line x1="2199" y1="1980" x2="2980" y2="1980" stroke-width="1.5"/>
<line x1="2199" y1="2022" x2="2980" y2="2022" stroke-width="2"/>
<path d="M2291 1470V2018M2407 1470V2018M2521 1470V2018M2637 1470V2018M2752 1470V2018M2867 1470V2018" stroke-width="1.2"/>
<path d="M2301 1494H2400M2416 1494H2514M2530 1494H2628M2646 1494H2745M2761 1494H2859M2876 1494H2973" stroke-width="1"/>
</g>
<g transform="translate(2199,0) scale(0.72,1)" font-size="19" text-anchor="middle">
<text y="1496" x="12" text-anchor="start" font-weight="bold">Method</text>
<text y="1486"><tspan x="208">CREMAD</tspan><tspan x="367">KSounds</tspan><tspan x="527">VGGSound</tspan><tspan x="686">Twitter</tspan><tspan x="846">Sarcasm</tspan><tspan x="1006">NVGesture</tspan></text>
<text y="1516"><tspan x="168">Acc.</tspan><tspan x="249">MAP</tspan><tspan x="328">Acc.</tspan><tspan x="407">MAP</tspan><tspan x="488">Acc.</tspan><tspan x="567">MAP</tspan><tspan x="647">Acc.</tspan><tspan x="726">F1</tspan><tspan x="807">Acc.</tspan><tspan x="886">F1</tspan><tspan x="967">Acc.</tspan><tspan x="1046">F1</tspan></text>
<text y="1544"><tspan x="12" text-anchor="start">Unimodal-1</tspan><tspan x="168">.4583</tspan><tspan x="249">.5879</tspan><tspan x="328">.5412</tspan><tspan x="407">.5669</tspan><tspan x="488">.4655</tspan><tspan x="567">.4701</tspan><tspan x="647">.5863</tspan><tspan x="726">.4333</tspan><tspan x="807">.7181</tspan><tspan x="886">.7073</tspan><tspan x="967">.7822</tspan><tspan x="1046">.7833</tspan></text>
<text y="1566"><tspan x="12" text-anchor="start">Unimodal-2</tspan><tspan x="168">.6317</tspan><tspan x="249">.6861</tspan><tspan x="328">.5562</tspan><tspan x="407">.5837</tspan><tspan x="488">.3494</tspan><tspan x="567">.3478</tspan><tspan x="647">.7367</tspan><tspan x="726">.6849</tspan><tspan x="807">.8136</tspan><tspan x="886">.8056</tspan><tspan x="967">.7863</tspan><tspan x="1046">.7865</tspan></text>
<text y="1587"><tspan x="12" text-anchor="start">Unimodal-3</tspan><tspan x="168">N/A</tspan><tspan x="249">N/A</tspan><tspan x="328">N/A</tspan><tspan x="407">N/A</tspan><tspan x="488">N/A</tspan><tspan x="567">N/A</tspan><tspan x="647">N/A</tspan><tspan x="726">N/A</tspan><tspan x="807">N/A</tspan><tspan x="886">N/A</tspan><tspan x="967">.8154</tspan><tspan x="1046">.8183</tspan></text>
<text y="1617"><tspan x="12" text-anchor="start">Concat</tspan><tspan x="168">.6361</tspan><tspan x="249">.6841</tspan><tspan x="328">.6455</tspan><tspan x="407">.7130</tspan><tspan x="488">.5116</tspan><tspan x="567">.5352</tspan><tspan x="647">.7011</tspan><tspan x="726">.6386</tspan><tspan x="807">.8286</tspan><tspan x="886">.8240</tspan><tspan x="967">.8237</tspan><tspan x="1046">.8270</tspan></text>
<text y="1639"><tspan x="12" text-anchor="start">Affine</tspan><tspan x="168">.6626</tspan><tspan x="249">.7193</tspan><tspan x="328">.6424</tspan><tspan x="407">.6931</tspan><tspan x="488">.5001</tspan><tspan x="567">.5155</tspan><tspan x="647">.7203</tspan><tspan x="726">.5992</tspan><tspan x="807">.8240</tspan><tspan x="886">.8188</tspan><tspan x="967">.8278</tspan><tspan x="1046">.8281</tspan></text>
<text y="1660"><tspan x="12" text-anchor="start">ML-LSTM</tspan><tspan x="168">.6290</tspan><tspan x="249">.6473</tspan><tspan x="328">.6394</tspan><tspan x="407">.6902</tspan><tspan x="488">.4966</tspan><tspan x="567">.5139</tspan><tspan x="647">.7068</tspan><tspan x="726">.6564</tspan><tspan x="807">.8277</tspan><tspan x="886">.8205</tspan><tspan x="967">.8320</tspan><tspan x="1046">.8330</tspan></text>
<text y="1682"><tspan x="12" text-anchor="start">Sum</tspan><tspan x="168">.6344</tspan><tspan x="249">.6908</tspan><tspan x="328">.6490</tspan><tspan x="407">.7103</tspan><tspan x="488">.5136</tspan><tspan x="567">.5338</tspan><tspan x="647">.7300</tspan><tspan x="726">.6661</tspan><tspan x="807">.8294</tspan><tspan x="886">.8247</tspan><tspan x="967">.8050</tspan><tspan x="1046">.8067</tspan></text>
<text y="1704"><tspan x="12" text-anchor="start">Weight</tspan><tspan x="168">.6653</tspan><tspan x="249">.7134</tspan><tspan x="328">.6533</tspan><tspan x="407">.7110</tspan><tspan x="488">.5144</tspan><tspan x="567">.5300</tspan><tspan x="647">.7242</tspan><tspan x="726">.6516</tspan><tspan x="807">.8265</tspan><tspan x="886">.8219</tspan><tspan x="967">.7842</tspan><tspan x="1046">.7939</tspan></text>
<text y="1733"><tspan x="12" text-anchor="start">MSES</tspan><tspan x="168">.6546</tspan><tspan x="249">.7138</tspan><tspan x="328">.6591</tspan><tspan x="407">.7196</tspan><tspan x="488">.4891</tspan><tspan x="567">.5429</tspan><tspan x="647">.7252</tspan><tspan x="726">.6439</tspan><tspan x="807">.8423</tspan><tspan x="886">.8369</tspan><tspan x="967">.8112</tspan><tspan x="1046">.8147</tspan></text>
<text y="1755"><tspan x="12" text-anchor="start">G-blend</tspan><tspan x="168">.6465</tspan><tspan x="249">.7392</tspan><tspan x="328">.6722</tspan><tspan x="407">.7274</tspan><tspan x="488">.5086</tspan><tspan x="567">.5555</tspan><tspan x="647">.7309</tspan><tspan x="726">.6799</tspan><tspan x="807">.8286</tspan><tspan x="886">.8215</tspan><tspan x="967">.8299</tspan><tspan x="1046">.8305</tspan></text>
<text y="1777"><tspan x="12" text-anchor="start">MSLR</tspan><tspan x="168">.6868</tspan><tspan x="249">.7412</tspan><tspan x="328">.6756</tspan><tspan x="407">.7282</tspan><tspan x="488">.4987</tspan><tspan x="567">.5415</tspan><tspan x="647">.7232</tspan><tspan x="726">.6382</tspan><tspan x="807">.8439</tspan><tspan x="886">.8378</tspan><tspan x="967">.8237</tspan><tspan x="1046">.8284</tspan></text>
<text y="1799"><tspan x="12" text-anchor="start">OGM</tspan><tspan x="168">.6612</tspan><tspan x="249">.7372</tspan><tspan x="328">.6582</tspan><tspan x="407">.7159</tspan><tspan x="488">.4829</tspan><tspan x="567">.4978</tspan><tspan x="647">.7058</tspan><tspan x="726">.6435</tspan><tspan x="807">.8360</tspan><tspan x="886">.8293</tspan></text>
<text y="1821"><tspan x="12" text-anchor="start">PMR</tspan><tspan x="168">.6659</tspan><tspan x="249">.7058</tspan><tspan x="328">.6675</tspan><tspan x="407">.7274</tspan><tspan x="488">.4647</tspan><tspan x="567">.4866</tspan><tspan x="647">.7357</tspan><tspan x="726">.6636</tspan><tspan x="807">.8310</tspan><tspan x="886">.8256</tspan><tspan x="967">–</tspan><tspan x="1046">–</tspan></text>
<text y="1842"><tspan x="12" text-anchor="start">AGM</tspan><tspan x="168">.6733</tspan><tspan x="249">.7807</tspan><tspan x="328">.6791</tspan><tspan x="407">.7388</tspan><tspan x="488">.4711</tspan><tspan x="567">.5198</tspan><tspan x="647">.7261</tspan><tspan x="726">.6502</tspan><tspan x="807">.8306</tspan><tspan x="886">.8293</tspan><tspan x="967">.8279</tspan><tspan x="1046">.8284</tspan></text>
<text y="1864"><tspan x="12" text-anchor="start">MMParato</tspan><tspan x="168">.7487</tspan><tspan x="249">.8535</tspan><tspan x="328">.7000</tspan><tspan x="407">.7850</tspan><tspan x="488">.5125</tspan><tspan x="567">.5473</tspan><tspan x="647">.7358</tspan><tspan x="726">.6729</tspan><tspan x="807">.8348</tspan><tspan x="886">.8284</tspan><tspan x="967">.8382</tspan><tspan x="1046">.8424</tspan></text>
<text y="1886"><tspan x="12" text-anchor="start">SMV</tspan><tspan x="168">.7872</tspan><tspan x="249">.8417</tspan><tspan x="328">.6900</tspan><tspan x="407">.7426</tspan><tspan x="488">.5031</tspan><tspan x="567">.5362</tspan><tspan x="647">.7428</tspan><tspan x="726">.6817</tspan><tspan x="807">.8418</tspan><tspan x="886">.8368</tspan><tspan x="967">.8352</tspan><tspan x="1046">.8341</tspan></text>
<text y="1908"><tspan x="12" text-anchor="start">MLA</tspan><tspan x="168">.7943</tspan><tspan x="249">.8572</tspan><tspan x="328">.7004</tspan><tspan x="407">.7945</tspan><tspan x="488">.5165</tspan><tspan x="567">.5473</tspan><tspan x="647">.7352</tspan><tspan x="726">.6713</tspan><tspan x="807">.8426</tspan><tspan x="886">.8348</tspan><tspan x="967">.8340</tspan><tspan x="1046">.8372</tspan></text>
<text y="1930"><tspan x="12" text-anchor="start">DI-MML</tspan><tspan x="168">.8158</tspan><tspan x="249">.8592</tspan><tspan x="328">.7203</tspan><tspan x="407">.7426</tspan><tspan x="488">.5173</tspan><tspan x="567">.5479</tspan><tspan x="647">.7248</tspan><tspan x="726">.6686</tspan><tspan x="807">.8411</tspan><tspan x="886">.8315</tspan></text>
<text y="1951"><tspan x="12" text-anchor="start">LFM</tspan><tspan x="168">.8362</tspan><tspan x="249">.9006</tspan><tspan x="328">.7253</tspan><tspan x="407">.7897</tspan><tspan x="488">.5274</tspan><tspan x="567">.5694</tspan><tspan x="647">.7501</tspan><tspan x="726" font-weight="bold">.7057</tspan><tspan x="807">.8497</tspan><tspan x="886">.8457</tspan><tspan x="967">.8436</tspan><tspan x="1046">.8468</tspan></text>
<text y="1972"><tspan x="12" text-anchor="start">ReconBoost</tspan><tspan x="168">.7557</tspan><tspan x="249">.8140</tspan><tspan x="328">.6855</tspan><tspan x="407">.7662</tspan><tspan x="488">.5097</tspan><tspan x="567">.5387</tspan><tspan x="647">.7442</tspan><tspan x="726">.6832</tspan><tspan x="807">.8437</tspan><tspan x="886">.8317</tspan><tspan x="967">.8386</tspan><tspan x="1046">.8434</tspan></text>
<text y="2006" x="12" text-anchor="start">Ours</text>
<text y="1998" font-weight="bold"><tspan x="168">.8515</tspan><tspan x="249">.9103</tspan><tspan x="328">.7263</tspan><tspan x="407">.7901</tspan><tspan x="488">.5301</tspan><tspan x="567">.5826</tspan><tspan x="647">.7512</tspan><tspan x="726" font-weight="normal">.6962</tspan><tspan x="807">.8510</tspan><tspan x="886">.8458</tspan><tspan x="967">.8501</tspan><tspan x="1046">.8533</tspan></text>
<text y="2015" font-size="12"><tspan x="168">±0.0027</tspan><tspan x="249">±0.0014</tspan><tspan x="328">±0.0031</tspan><tspan x="407">±0.0063</tspan><tspan x="488">±0.0006</tspan><tspan x="567">±0.0017</tspan><tspan x="647">±0.0068</tspan><tspan x="726">±0.0016</tspan><tspan x="807">±0.0054</tspan><tspan x="886">±0.0047</tspan><tspan x="967">±0.0025</tspan><tspan x="1046">±0.0031</tspan></text>
</g>
<path d="M2301 1955H2332M2359 1955H2397M2417 1955H2451M2532 1955H2566M2589 1955H2624M2647 1955H2681M2762 1955H2796M2819 1955H2853M2877 1955H2911M2935 1955H2969" stroke="#000" stroke-width="1"/>

<!-- Residual Gain -->
<text x="2247" y="2061" font-size="38" font-weight="bold" textLength="241" lengthAdjust="spacingAndGlyphs">Residual Gain</text>
<rect x="2263" y="2084" width="656" height="310" fill="none" stroke="#333" stroke-width="1.5"/>
<path d="M2329 2084v7M2394 2084v7M2460 2084v7M2525 2084v7M2591 2084v7M2657 2084v7M2722 2084v7M2788 2084v7M2853 2084v7M2263 2132h7M2263 2180h7M2263 2228h7M2263 2275h7M2263 2323h7M2263 2371h7M2919 2105h-7M2919 2146h-7M2919 2188h-7M2919 2229h-7M2919 2270h-7M2919 2311h-7M2919 2353h-7" stroke="#555" stroke-width="1.2"/>
<g font-size="19" text-anchor="end">
<text x="2256" y="2091">0.9</text><text x="2256" y="2139">0.8</text><text x="2256" y="2187">0.7</text><text x="2256" y="2235">0.6</text><text x="2256" y="2282">0.5</text><text x="2256" y="2330">0.4</text><text x="2256" y="2378">0.3</text>
</g>
<g font-size="19">
<text x="2925" y="2112">14</text><text x="2925" y="2153">12</text><text x="2925" y="2195">10</text><text x="2925" y="2236">8</text><text x="2925" y="2277">6</text><text x="2925" y="2318">4</text><text x="2925" y="2360">2</text><text x="2925" y="2398">0</text>
</g>
<g font-size="19" text-anchor="middle">
<text x="2263" y="2413">0</text><text x="2329" y="2413">20</text><text x="2394" y="2413">40</text><text x="2460" y="2413">60</text><text x="2525" y="2413">80</text><text x="2591" y="2413">100</text><text x="2657" y="2413">120</text><text x="2722" y="2413">140</text><text x="2788" y="2413">160</text><text x="2853" y="2413">180</text><text x="2919" y="2413">200</text>
</g>
<text x="2591" y="2440" font-size="22" text-anchor="middle">#epochs</text>
<text transform="translate(2213,2238) rotate(-90)" font-size="21" text-anchor="middle">Accuracy</text>
<text transform="translate(2974,2238) rotate(-90)" font-size="24" text-anchor="middle">#classifier</text>
<g transform="translate(2263,2394) scale(3.28,-20.65)" fill="none">
<polyline class="nv" stroke="#d9739a" stroke-width="2.5" points="0,0.7 1,2 19,2 19,3 39,3 39,4 59,4 59,5 79,5 79,6 99,6 99,7 119,7 119,8 139,8 139,9 159,9 159,10 179,10 179,11 199,11"/>
</g>
<g transform="translate(2263,2514.5) scale(3.28,-478.3)" fill="none" stroke-width="2" stroke-linejoin="round">
<polyline class="nv" stroke="#ff8c00" points="0,.27 1,.32 2,.37 3,.43 4,.46 5,.48 6,.49 7,.51 8,.5 9,.49 10,.495 11,.49 12,.48 13,.445 14,.47 15,.45 16,.47 17,.49 18,.53 19,.51 20,.53 21,.52 22,.55 23,.575 24,.56 25,.59 26,.575 28,.59 30,.62 32,.66 34,.72 36,.745 38,.755 40,.757 42,.76 44,.765 46,.77 48,.775 50,.78 52,.772 54,.768 56,.77 58,.775 60,.78 62,.785 64,.79 66,.795 68,.805 70,.81 74,.815 78,.817 82,.82 86,.822 90,.82 94,.818 98,.82 102,.823 106,.82 110,.822 114,.824 118,.822 122,.828 126,.83 130,.83 134,.83 138,.832 142,.845 146,.848 150,.848 154,.848 158,.848 162,.846 166,.842 170,.84 174,.843 178,.841 182,.84 186,.84 190,.84 194,.838 198,.84 200,.845"/>
<polyline class="nv" stroke="#e8000b" points="0,.28 1,.33 2,.38 3,.44 4,.47 5,.49 6,.5 7,.525 8,.52 9,.51 10,.515 11,.51 12,.5 13,.47 14,.49 15,.48 16,.5 17,.51 18,.55 19,.53 20,.56 21,.55 22,.57 23,.6 24,.58 25,.61 26,.6 28,.61 30,.65 32,.68 34,.73 36,.75 38,.755 40,.76 42,.765 44,.775 46,.77 48,.78 50,.785 52,.775 54,.765 56,.77 58,.785 60,.79 62,.8 64,.805 66,.81 68,.82 70,.825 74,.825 78,.827 82,.825 86,.83 90,.83 94,.833 98,.835 102,.835 106,.826 110,.833 114,.832 118,.83 122,.835 126,.834 130,.833 134,.834 138,.838 142,.84 146,.845 150,.847 154,.846 158,.845 162,.845 166,.843 170,.838 174,.842 178,.843 182,.842 186,.84 190,.84 194,.838 198,.836 200,.838"/>
</g>
<rect x="2667" y="2318" width="252" height="76" fill="#fff" stroke="#555" stroke-width="1.2"/>
<line x1="2673" y1="2332" x2="2705" y2="2332" stroke="#e8000b" stroke-width="2.5"/>
<line x1="2673" y1="2355" x2="2705" y2="2355" stroke="#ff8c00" stroke-width="2.5"/>
<line x1="2673" y1="2378" x2="2705" y2="2378" stroke="#d9739a" stroke-width="2.5"/>
<g font-size="19">
<text x="2711" y="2338">Full Prediction</text>
<text x="2711" y="2361">Prediction of <tspan font-style="italic">t</tspan> − 1 CLS</text>
<text x="2711" y="2384">#Video CLS</text>
</g>

<!-- Visualization -->
<text x="3038" y="1453" font-size="38" font-weight="bold" textLength="221" lengthAdjust="spacingAndGlyphs">Visualization</text>
<g fill="#fff" stroke="#555" stroke-width="1.5">
<rect x="2999" y="1461" width="316" height="238"/>
<rect x="3332" y="1461" width="316" height="238"/>
<rect x="3665" y="1461" width="316" height="238"/>
<rect x="2999" y="1745" width="313" height="238"/>
<rect x="3328" y="1745" width="317" height="238"/>
<rect x="3662" y="1745" width="316" height="238"/>
</g>
<!-- (a) -->
<use href="#a1" fill="url(#pt)"/><use href="#a1" fill="url(#py)"/><use href="#a1" fill="url(#pp)"/><use href="#a1" fill="url(#pb)"/><use href="#a1" fill="url(#pg)"/>
<ellipse cx="3272" cy="1555" rx="33" ry="22" fill="url(#dR)"/>
<ellipse cx="3245" cy="1620" rx="20" ry="32" fill="url(#pr)"/>
<ellipse cx="3160" cy="1668" rx="60" ry="16" fill="url(#dT)" opacity=".7"/>
<ellipse cx="3120" cy="1500" rx="30" ry="18" fill="url(#dB)" opacity=".8"/>
<!-- (b) -->
<use href="#b1" fill="url(#pt)"/><use href="#b1" fill="url(#py)"/><use href="#b1" fill="url(#pp)"/><use href="#b1" fill="url(#pr)"/><use href="#b1" fill="url(#pb)"/>
<ellipse cx="3612" cy="1550" rx="28" ry="28" fill="url(#dR)"/>
<ellipse cx="3505" cy="1665" rx="32" ry="25" fill="url(#dB)"/>
<ellipse cx="3470" cy="1505" rx="45" ry="18" fill="url(#dT)" opacity=".7"/>
<!-- (c) -->
<use href="#c1" fill="url(#pp)"/><use href="#c1" fill="url(#pt)"/>
<ellipse cx="3730" cy="1510" rx="28" ry="32" fill="url(#dT)"/>
<ellipse cx="3805" cy="1565" rx="45" ry="18" fill="url(#dP)"/>
<ellipse cx="3945" cy="1550" rx="24" ry="35" fill="url(#dR)"/>
<ellipse cx="3690" cy="1605" rx="22" ry="40" fill="url(#dY)"/>
<ellipse cx="3900" cy="1625" rx="25" ry="22" fill="url(#dG)"/>
<ellipse cx="3825" cy="1665" rx="35" ry="28" fill="url(#dB)"/>
<!-- (d) -->
<use href="#dd" fill="url(#pr)"/><use href="#dd" fill="url(#pp)"/><use href="#dd" fill="url(#pt)"/><use href="#dd" fill="url(#pg)"/><use href="#dd" fill="url(#py)"/>
<!-- (e) -->
<use href="#e1" fill="url(#pr)"/><use href="#e1" fill="url(#pt)"/><use href="#e1" fill="url(#py)"/><use href="#e1" fill="url(#pb)"/><use href="#e1" fill="url(#pp)"/>
<ellipse cx="3605" cy="1815" rx="32" ry="42" fill="url(#dP)"/>
<ellipse cx="3580" cy="1932" rx="35" ry="30" fill="url(#dG)"/>
<!-- (f) -->
<use href="#f1" fill="url(#pr)"/><use href="#f1" fill="url(#pt)"/><use href="#f1" fill="url(#py)"/><use href="#f1" fill="url(#pb)"/>
<ellipse cx="3890" cy="1797" rx="20" ry="36" fill="url(#dP)"/>
<ellipse cx="3812" cy="1865" rx="22" ry="25" fill="url(#dT)"/>
<ellipse cx="3707" cy="1889" rx="22" ry="25" fill="url(#dB)"/>
<ellipse cx="3793" cy="1934" rx="22" ry="25" fill="url(#dR)"/>
<ellipse cx="3924" cy="1934" rx="22" ry="25" fill="url(#dG)"/>
<g fill="none" stroke="#e02020" stroke-width="1.5">
<ellipse cx="3890" cy="1797" rx="25" ry="40"/>
<ellipse cx="3812" cy="1865" rx="26" ry="29"/>
<ellipse cx="3707" cy="1889" rx="26" ry="29"/>
<ellipse cx="3793" cy="1934" rx="26" ry="29"/>
<ellipse cx="3924" cy="1934" rx="26" ry="29"/>
</g>
<g class="ss" font-size="18" text-anchor="middle">
<text x="3157" y="1479">Audio</text><text x="3490" y="1477">Audio</text><text x="3823" y="1478">Audio</text>
<text x="3155" y="1762">Video</text><text x="3486" y="1760">Video</text><text x="3820" y="1760">Video</text>
</g>
<g font-size="27" text-anchor="middle">
<text x="3157" y="1734">(a). naive MML@Audio.</text>
<text x="3490" y="1734">(b). ReconBoost@Audio.</text>
<text x="3823" y="1734">(c). Ours@Audio.</text>
<text x="3155" y="2017">(d). naive MML@Video.</text>
<text x="3486" y="2017">(e). ReconBoost@Video.</text>
<text x="3820" y="2017">(f). Ours@Video.</text>
</g>
<!-- outstanding arrow -->
<polyline points="4012,1735 4086,1640 4140,1700 4200,1636" fill="none" stroke="#8a3891" stroke-width="50" stroke-linecap="round" stroke-linejoin="miter"/>
<polygon points="4160,1597 4252,1597 4252,1688" fill="#8a3891"/>
<text x="4116" y="1807" font-size="42" font-weight="bold" fill="#8a2387" text-anchor="middle" textLength="231" lengthAdjust="spacingAndGlyphs">Outstanding</text>
<text x="4116" y="1853" font-size="42" font-weight="bold" fill="#8a2387" text-anchor="middle" textLength="241" lengthAdjust="spacingAndGlyphs">Performance!</text>

<!-- Ablation -->
<text x="3042" y="2061" font-size="38" font-weight="bold" textLength="257" lengthAdjust="spacingAndGlyphs">Ablation Study</text>
<g stroke="#000">
<line x1="3000" y1="2081" x2="4246" y2="2081" stroke-width="3"/>
<line x1="3000" y1="2156" x2="4246" y2="2156" stroke-width="3"/>
<line x1="3000" y1="2444" x2="4246" y2="2444" stroke-width="4"/>
<path d="M3276 2083V2147M3276 2172V2434" stroke-width="1.5"/>
</g>
<g font-size="40" text-anchor="middle">
<text x="3038" y="2127" font-style="italic">ϵ</text>
<text x="3126" y="2127" font-style="italic">ϵ<tspan font-size="26" dy="8">o</tspan></text>
<text x="3221" y="2127" font-style="italic">ϵ<tspan font-size="26" dy="8">p</tspan></text>
<text x="3438" y="2127" font-size="42">Multi</text>
<text x="3762" y="2127" font-size="42">Audio</text>
<text x="4086" y="2127" font-size="42">Video</text>
<text x="3038" y="2216">√</text><text x="3126" y="2216" font-style="italic">X</text><text x="3221" y="2216">√</text>
<text x="3038" y="2282" font-style="italic">X</text><text x="3126" y="2282">√</text><text x="3221" y="2282" font-style="italic">X</text>
<text x="3038" y="2348" font-style="italic">X</text><text x="3126" y="2348">√</text><text x="3221" y="2348">√</text>
<text x="3038" y="2413">√</text><text x="3126" y="2413">√</text><text x="3221" y="2413">√</text>
<text x="3438" y="2216" textLength="268" lengthAdjust="spacingAndGlyphs">0.8333/0.8967</text>
<text x="3762" y="2216" textLength="268" lengthAdjust="spacingAndGlyphs">0.6465/0.7061</text>
<text x="4086" y="2216" textLength="268" lengthAdjust="spacingAndGlyphs">0.6734/0.7523</text>
<text x="3438" y="2282" textLength="268" lengthAdjust="spacingAndGlyphs">0.8320/0.8895</text>
<text x="3762" y="2282" textLength="268" lengthAdjust="spacingAndGlyphs">0.6573/0.7235</text>
<text x="4086" y="2282" textLength="268" lengthAdjust="spacingAndGlyphs">0.6707/0.7535</text>
<text x="3438" y="2348" textLength="268" lengthAdjust="spacingAndGlyphs">0.8360/0.9014</text>
<text x="3762" y="2348" textLength="268" lengthAdjust="spacingAndGlyphs"><tspan font-weight="bold">0.6841</tspan>/0.7321</text>
<text x="4086" y="2348" textLength="268" lengthAdjust="spacingAndGlyphs">0.6371/0.7335</text>
<text x="3438" y="2413" textLength="268" lengthAdjust="spacingAndGlyphs" font-weight="bold">0.8515/0.9103</text>
<text x="3762" y="2413" textLength="268" lengthAdjust="spacingAndGlyphs">0.6835/<tspan font-weight="bold">0.7529</tspan></text>
<text x="4086" y="2413" textLength="268" lengthAdjust="spacingAndGlyphs" font-weight="bold">0.6828/0.7612</text>
</g>
<!-- SOTA banner -->
<rect x="2196" y="2460" width="2071" height="84" fill="url(#gb)"/>
<path d="M2198 2462 H2254 V2485 L2240 2500 H2212 L2198 2485 Z" fill="#fff" stroke="#8a2387" stroke-width="5"/>
<path d="M2214 2462 V2480 M2226 2462 V2480 M2238 2462 V2480" stroke="#8a2387" stroke-width="5"/>
<circle cx="2226" cy="2520" r="25" fill="#fff" stroke="#8a2387" stroke-width="6"/>
<polygon points="2226,2504 2231,2515 2242,2516 2234,2524 2236,2535 2226,2529 2216,2535 2218,2524 2210,2516 2221,2515" fill="none" stroke="#8a2387" stroke-width="3"/>
<text x="2274" y="2516" font-size="46" font-weight="bold" textLength="1307" lengthAdjust="spacingAndGlyphs">Our method achieves SOTA performance across various datasets!</text>

<!-- ================= CONCLUSION ================= -->
<g font-size="46">
<text x="80" y="2719" textLength="2857" lengthAdjust="spacingAndGlyphs">This work addresses modality imbalance by proposing a sustained boosting algorithm that minimizes both classification and residual errors.</text>
<text x="80" y="2776" textLength="2857" lengthAdjust="spacingAndGlyphs">Additionally, an adaptive classifier assignment strategy is introduced to dynamically improve the performance of weak modalities. The method ensures</text>
<text x="80" y="2833" textLength="2082" lengthAdjust="spacingAndGlyphs">effective balancing of modalities throughout training, with theoretical guarantees on its convergence properties.</text>
</g>

<!-- ================= CONTACT ================= -->
<g fill="#8a3891">
<rect x="3018" y="2687" width="56" height="40" rx="5"/>
<rect x="3018" y="2743" width="56" height="40" rx="5"/>
<rect x="3018" y="2799" width="56" height="40" rx="5"/>
</g>
<g fill="none" stroke="#fff" stroke-width="5">
<polyline points="3020,2689 3046,2712 3072,2689"/>
<polyline points="3020,2745 3046,2768 3072,2745"/>
<polyline points="3020,2801 3046,2824 3072,2801"/>
</g>
<g font-size="44" font-weight="bold">
<text x="3081" y="2715" textLength="433" lengthAdjust="spacingAndGlyphs">jiangqy@njust.edu.cn</text>
<text x="3081" y="2770" textLength="339" lengthAdjust="spacingAndGlyphs">hlf@njust.edu.cn</text>
<text x="3081" y="2827" textLength="403" lengthAdjust="spacingAndGlyphs">yyang@njust.edu.cn</text>
<text x="3627" y="2735" font-size="46" textLength="259" lengthAdjust="spacingAndGlyphs">KMG Group</text>
<text x="3627" y="2818" font-size="46" textLength="152" lengthAdjust="spacingAndGlyphs">GitHub</text>
</g>
<circle cx="3580" cy="2714" r="15" fill="#5b8dd0"/>
<path d="M3549 2754 Q3549 2726 3580 2726 Q3611 2726 3611 2754 Z" fill="#5b8dd0"/>
<circle cx="3580" cy="2803" r="27" fill="#3ae63a"/>
<path d="M3568 2830 V2818 Q3558 2815 3560 2800 L3562 2788 L3570 2793 Q3580 2790 3590 2793 L3598 2788 L3600 2800 Q3602 2815 3592 2818 V2830 Z" fill="#fff"/>
<rect x="3920" y="2699" width="135" height="138" fill="#fff"/>
<rect x="3920" y="2699" width="135" height="138" fill="url(#qb)"/>
<rect x="4104" y="2700" width="135" height="137" fill="#fff"/>
<rect x="4104" y="2700" width="135" height="137" fill="url(#qg)"/>
<g fill="#fff" stroke="#1565c0" stroke-width="6">
<rect x="3923" y="2702" width="34" height="34"/><rect x="4018" y="2702" width="34" height="34"/><rect x="3923" y="2800" width="34" height="34"/>
</g>
<g fill="#1565c0"><rect x="3933" y="2712" width="14" height="14"/><rect x="4028" y="2712" width="14" height="14"/><rect x="3933" y="2810" width="14" height="14"/></g>
<g fill="#fff" stroke="#3ce63c" stroke-width="6">
<rect x="4107" y="2703" width="34" height="34"/><rect x="4202" y="2703" width="34" height="34"/><rect x="4107" y="2800" width="34" height="34"/>
</g>
<g fill="#3ce63c"><rect x="4117" y="2713" width="14" height="14"/><rect x="4212" y="2713" width="14" height="14"/><rect x="4117" y="2810" width="14" height="14"/></g>
<circle cx="3988" cy="2768" r="18" fill="#fff" stroke="#8a3891" stroke-width="2"/>
<circle cx="4172" cy="2768" r="14" fill="#fff" stroke="#3ce63c" stroke-width="3"/>
</svg>
</body></html>
